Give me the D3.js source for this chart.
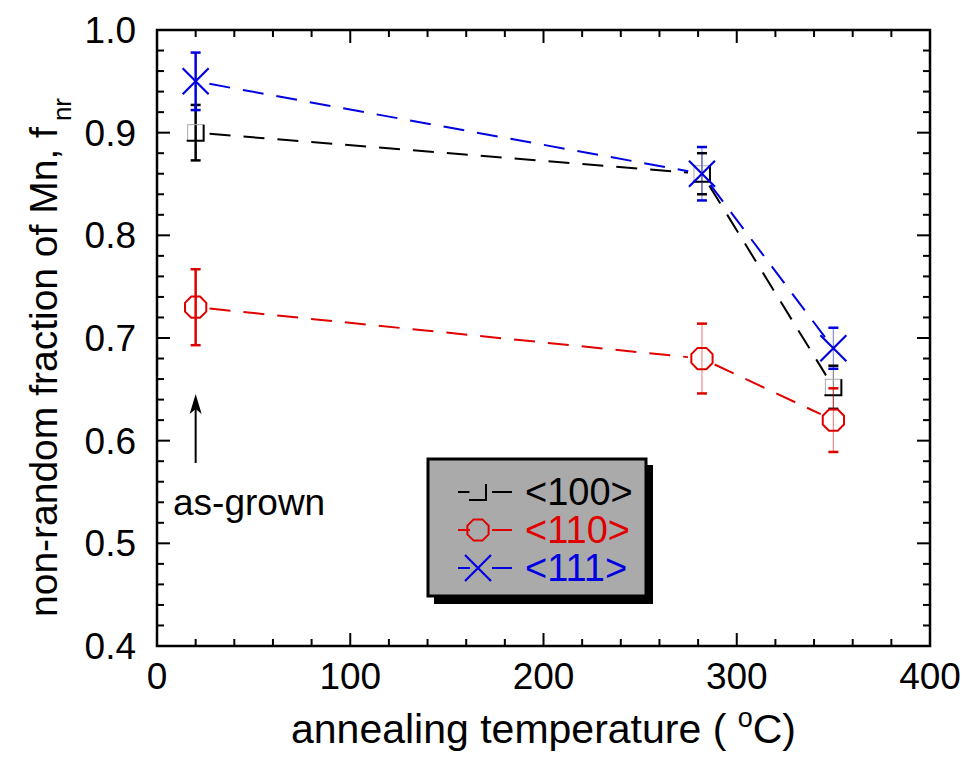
<!DOCTYPE html>
<html><head><meta charset="utf-8">
<script src="https://cdn.jsdelivr.net/npm/d3@7"></script>
<style>body{margin:0;background:#fff}svg{display:block;font-family:"Liberation Sans",Arial,sans-serif}</style>
</head><body><svg id="c" width="962" height="757"></svg>
<script>
const temps = [20, 282, 350];
const series = [
  {name: "<100>", color: "#000000", marker: "square", values: [0.900, 0.860, 0.652], errors: [0.027, 0.020, 0.021]},
  {name: "<110>", color: "#e00000", marker: "octagon", values: [0.730, 0.680, 0.620], errors: [0.037, 0.034, 0.031]},
  {name: "<111>", color: "#0000e0", marker: "cross", values: [0.950, 0.860, 0.690], errors: [0.028, 0.026, 0.020]}
];
const xTicks = [0, 100, 200, 300, 400];
const yTicks = [0.4, 0.5, 0.6, 0.7, 0.8, 0.9, 1.0];
const xLabel = "annealing temperature ( ";
const yLabel = "non-random fraction of Mn, f";
const annotation = "as-grown";

const svg = d3.select("#c");
const L = 157, R = 930, T = 30, B = 646;
const x = d3.scaleLinear().domain([0, 400]).range([L, R]);
const y = d3.scaleLinear().domain([0.4, 1.0]).range([B, T]);

// ticks
const minorX = d3.range(0, 401, 20);
const minorY = d3.range(0, 31).map(i => 0.4 + i * 0.02);
const tg = svg.append("g").attr("stroke", "#000").attr("stroke-width", 2);
minorX.forEach(v => {
  const major = v % 100 === 0;
  const len = major ? 13 : 7;
  tg.append("line").attr("x1", x(v)).attr("x2", x(v)).attr("y1", B).attr("y2", B - len);
  tg.append("line").attr("x1", x(v)).attr("x2", x(v)).attr("y1", T).attr("y2", T + len);
});
minorY.forEach((v, i) => {
  const major = i % 5 === 0;
  const len = major ? 13 : 7;
  tg.append("line").attr("y1", y(v)).attr("y2", y(v)).attr("x1", L).attr("x2", L + len);
  tg.append("line").attr("y1", y(v)).attr("y2", y(v)).attr("x1", R).attr("x2", R - len);
});
svg.append("rect").attr("x", L).attr("y", T).attr("width", R - L).attr("height", B - T)
  .attr("fill", "none").attr("stroke", "#000").attr("stroke-width", 2.5);

// tick labels
svg.append("g").selectAll("text").data(xTicks).join("text")
  .attr("x", d => x(d)).attr("y", 689).attr("text-anchor", "middle")
  .attr("font-size", 37).text(d => d);
svg.append("g").selectAll("text").data(yTicks).join("text")
  .attr("x", 136).attr("y", d => y(d) + 13).attr("text-anchor", "end")
  .attr("font-size", 37).text(d => d.toFixed(1));

// axis titles
const xt = svg.append("text").attr("x", (L + R) / 2).attr("y", 743).attr("text-anchor", "middle").attr("font-size", 41);
xt.append("tspan").text(xLabel);
xt.append("tspan").attr("font-size", 27).attr("dy", -16).text("o");
xt.append("tspan").attr("dy", 16).text("C)");
const yt = svg.append("text").attr("transform", "translate(57,617) rotate(-90)").attr("font-size", 39);
yt.append("tspan").text(yLabel);
yt.append("tspan").attr("font-size", 26).attr("dx", 6).attr("dy", 14).text("nr");

// dashed connecting lines with gaps at markers
const gap = 14;
series.forEach(s => {
  const pts = temps.map((t, i) => [x(t), y(s.values[i])]);
  for (let i = 0; i < pts.length - 1; i++) {
    const [x1, y1] = pts[i], [x2, y2] = pts[i + 1];
    const dx = x2 - x1, dy = y2 - y1, d = Math.hypot(dx, dy);
    const ux = dx / d, uy = dy / d;
    svg.append("line")
      .attr("x1", x1 + ux * gap).attr("y1", y1 + uy * gap)
      .attr("x2", x2 - ux * gap).attr("y2", y2 - uy * gap)
      .attr("stroke", s.color).attr("stroke-width", 2).attr("stroke-dasharray", "21,13");
  }
});

function drawMarker(g, type, cx, cy, color) {
  if (type === "square") {
    g.append("rect").attr("x", cx - 8).attr("y", cy - 8).attr("width", 16).attr("height", 16)
      .attr("fill", "none").attr("stroke", "#aaa").attr("stroke-width", 1);
    g.append("path").attr("d", `M${cx + 8},${cy - 8}V${cy + 8}H${cx - 9}`)
      .attr("fill", "none").attr("stroke", color).attr("stroke-width", 2);
  } else if (type === "octagon") {
    const r = 11.5;
    const p = d3.range(8).map(k => {
      const a = Math.PI / 8 + k * Math.PI / 4;
      return [cx + r * Math.cos(a), cy + r * Math.sin(a)];
    });
    g.append("path").attr("d", "M" + p.join("L") + "Z")
      .attr("fill", "none").attr("stroke", color).attr("stroke-width", 2);
  } else {
    const h = 13;
    g.append("path").attr("d", `M${cx - h},${cy - h}L${cx + h},${cy + h}M${cx - h},${cy + h}L${cx + h},${cy - h}`)
      .attr("stroke", color).attr("stroke-width", 2.2);
  }
}

// error bars & markers
series.forEach(s => {
  const g = svg.append("g");
  temps.forEach((t, i) => {
    const cx = x(t), cy = y(s.values[i]);
    const lo = y(s.values[i] - s.errors[i]), hi = y(s.values[i] + s.errors[i]);
    g.append("line").attr("x1", cx).attr("x2", cx).attr("y1", lo).attr("y2", hi)
      .attr("stroke", s.color).attr("stroke-width", i === 0 ? 2.5 : 1.2).attr("opacity", i === 0 ? 1 : 0.45);
    [lo, hi].forEach(v => g.append("line").attr("x1", cx - 5).attr("x2", cx + 5).attr("y1", v).attr("y2", v)
      .attr("stroke", s.color).attr("stroke-width", 2.5));
    drawMarker(g, s.marker, cx, cy, s.color);
  });
});

// annotation arrow
const ax = x(temps[0]);
svg.append("line").attr("x1", ax).attr("x2", ax).attr("y1", 463).attr("y2", 405).attr("stroke", "#000").attr("stroke-width", 2);
svg.append("path").attr("d", `M${ax},${394}L${ax - 6},${414}L${ax},${409}L${ax + 6},${414}Z`).attr("fill", "#000");
svg.append("text").attr("x", 173).attr("y", 515).attr("font-size", 37).text(annotation);

// legend
const lg = svg.append("g");
lg.append("rect").attr("x", 434).attr("y", 465).attr("width", 219).attr("height", 139).attr("fill", "#000");
lg.append("rect").attr("x", 428).attr("y", 459).attr("width", 218).attr("height", 137)
  .attr("fill", "#aaaaaa").attr("stroke", "#000").attr("stroke-width", 3);
series.forEach((s, i) => {
  const cy = 492 + i * 38;
  lg.append("line").attr("x1", 458).attr("x2", 470).attr("y1", cy).attr("y2", cy).attr("stroke", s.color).attr("stroke-width", 2);
  lg.append("line").attr("x1", 492).attr("x2", 512).attr("y1", cy).attr("y2", cy).attr("stroke", s.color).attr("stroke-width", 2);
  drawMarker(lg, s.marker, 478, cy, s.color);
  lg.append("text").attr("x", 525).attr("y", cy + 13).attr("font-size", 38).attr("fill", s.color).text(s.name);
});
</script></body></html>
